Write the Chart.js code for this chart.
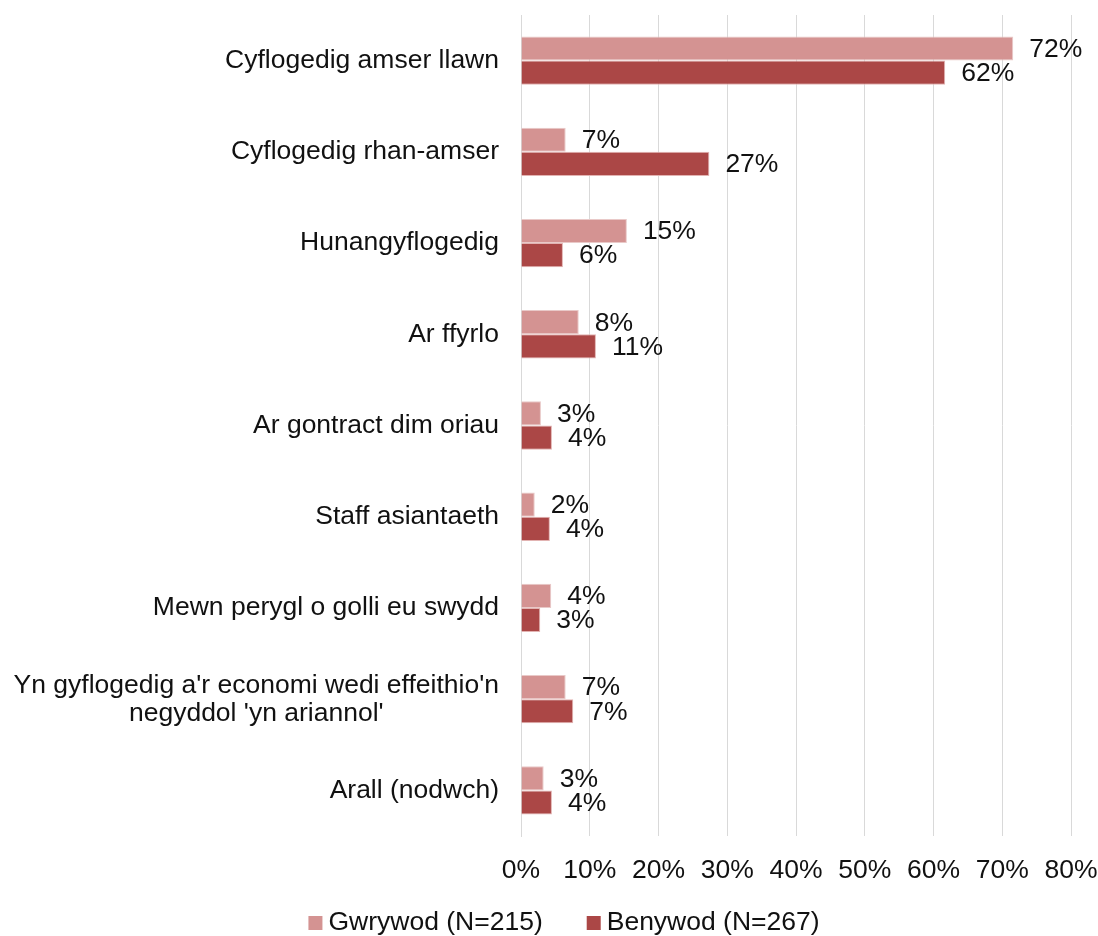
<!DOCTYPE html>
<html>
<head>
<meta charset="utf-8">
<script src="https://cdn.jsdelivr.net/npm/chart.js@4"></script>
<style>
  html, body { margin: 0; padding: 0; background: #fff; }
  #wrap { width: 1098px; height: 936px; }
</style>
</head>
<body>
<div id="wrap"><canvas id="myBarChart"></canvas></div>
<script>
// Chart data
const categories = [
    'Cyflogedig amser llawn',
    'Cyflogedig rhan-amser',
    'Hunangyflogedig',
    'Ar ffyrlo',
    'Ar gontract dim oriau',
    'Staff asiantaeth',
    'Mewn perygl o golli eu swydd',
    ["Yn gyflogedig a'r economi wedi effeithio'n", "negyddol 'yn ariannol'"],
    'Arall (nodwch)'
];
const seriesNames = ['Gwrywod (N=215)', 'Benywod (N=267)'];
const seriesColors = ['#D49392', '#AB4746'];
const maleValues = [71.6, 6.5, 15.4, 8.4, 2.9, 2.0, 4.4, 6.5, 3.3];   // Gwrywod
const femaleValues = [61.7, 27.4, 6.1, 10.9, 4.5, 4.2, 2.8, 7.6, 4.5]; // Benywod
const maleLabels = ['72%', '7%', '15%', '8%', '3%', '2%', '4%', '7%', '3%'];
const femaleLabels = ['62%', '27%', '6%', '11%', '4%', '4%', '3%', '7%', '4%'];
const xTicks = [0, 10, 20, 30, 40, 50, 60, 70, 80];

const FONT = '"Liberation Sans", Arial, sans-serif';
const FONT_SIZE = 26.5;
const textColor = '#111';

// Draws the category names left of the plot (multi-line ones centred)
const categoryLabels = {
    id: 'categoryLabels',
    afterDraw(chart) {
        const ctx = chart.ctx;
        const yScale = chart.scales.y;
        ctx.save();
        ctx.font = FONT_SIZE + 'px ' + FONT;
        ctx.fillStyle = textColor;
        ctx.textBaseline = 'middle';
        const right = chart.chartArea.left - 22;
        const lineH = 28;
        categories.forEach((cat, i) => {
            const y = yScale.getPixelForValue(i);
            const lines = Array.isArray(cat) ? cat : [cat];
            const maxW = Math.max(...lines.map(l => ctx.measureText(l).width));
            const top = y - (lines.length - 1) * lineH / 2;
            lines.forEach((line, j) => {
                if (lines.length > 1) {
                    ctx.textAlign = 'center';
                    ctx.fillText(line, right - maxW / 2, top + j * lineH + 1);
                } else {
                    ctx.textAlign = 'right';
                    ctx.fillText(line, right, top + j * lineH);
                }
            });
        });
        ctx.restore();
    }
};

// Value labels at the end of each bar
const valueLabels = {
    id: 'valueLabels',
    afterDatasetsDraw(chart) {
        const ctx = chart.ctx;
        const labelSets = [maleLabels, femaleLabels];
        ctx.save();
        ctx.font = FONT_SIZE + 'px ' + FONT;
        ctx.fillStyle = textColor;
        ctx.textAlign = 'left';
        ctx.textBaseline = 'middle';
        chart.data.datasets.forEach((ds, d) => {
            chart.getDatasetMeta(d).data.forEach((bar, i) => {
                ctx.fillText(labelSets[d][i], bar.x + 16, bar.y + 1);
            });
        });
        ctx.restore();
    }
};

// Simple legend at the bottom, tighter than the built-in one
const bottomLegend = {
    id: 'bottomLegend',
    afterDraw(chart) {
        const ctx = chart.ctx;
        const box = 14, gapText = 6, gapItem = 44;
        const y = 923;
        ctx.save();
        ctx.font = FONT_SIZE + 'px ' + FONT;
        ctx.textBaseline = 'middle';
        ctx.textAlign = 'left';
        const widths = seriesNames.map(n => ctx.measureText(n).width);
        let total = 0;
        widths.forEach((w, i) => { total += box + gapText + w + (i ? gapItem : 0); });
        let x = 564 - total / 2;
        seriesNames.forEach((name, i) => {
            ctx.fillStyle = seriesColors[i];
            ctx.fillRect(x, y - box / 2, box, box);
            ctx.fillStyle = textColor;
            ctx.fillText(name, x + box + gapText, y);
            x += box + gapText + widths[i] + gapItem;
        });
        ctx.restore();
    }
};

const ctx = document.getElementById('myBarChart').getContext('2d');
const myBarChart = new Chart(ctx, {
    type: 'bar',
    data: {
        labels: categories,
        datasets: [{
            label: seriesNames[0],
            data: maleValues,
            backgroundColor: seriesColors[0],
            borderColor: '#E9C9C8',
            borderWidth: 1,
            barPercentage: 1,
            categoryPercentage: 0.53
        }, {
            label: seriesNames[1],
            data: femaleValues,
            backgroundColor: seriesColors[1],
            borderColor: '#E2B3B2',
            borderWidth: 1,
            barPercentage: 1,
            categoryPercentage: 0.53
        }]
    },
    options: {
        indexAxis: 'y',
        responsive: true,
        maintainAspectRatio: false,
        animation: false,
        layout: {
            padding: { top: 15, right: 27, bottom: 38, left: 0 }
        },
        scales: {
            x: {
                min: 0,
                max: 80,
                afterBuildTicks: scale => {
                    scale.ticks = xTicks.map(v => ({ value: v }));
                },
                afterFit: scale => {
                    scale.height = 62;
                    scale.paddingLeft = 0;
                    scale.paddingRight = 0;
                },
                grid: {
                    color: '#D9D9D9',
                    lineWidth: 1,
                    drawTicks: false
                },
                border: { display: false },
                ticks: {
                    padding: 19,
                    color: textColor,
                    font: { family: FONT, size: FONT_SIZE },
                    callback: v => v + '%'
                }
            },
            y: {
                afterFit: scale => { scale.width = 521; },
                grid: { display: false },
                border: { display: true, color: '#D9D9D9' },
                ticks: { display: false }
            }
        },
        plugins: {
            legend: { display: false },
            tooltip: { enabled: false }
        }
    },
    plugins: [categoryLabels, valueLabels, bottomLegend]
});
</script>
</body>
</html>
